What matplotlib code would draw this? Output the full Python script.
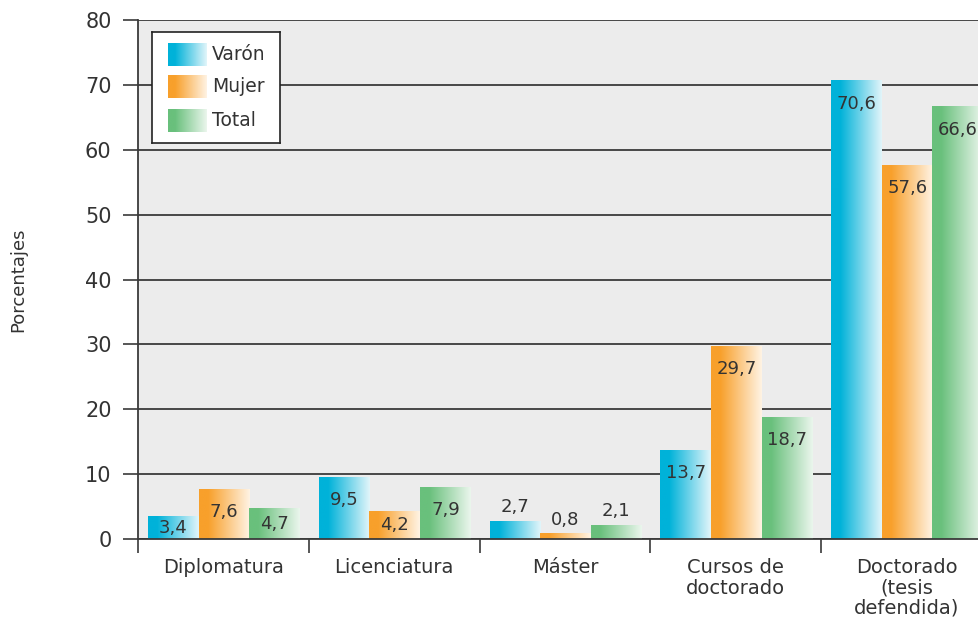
import numpy as np
import matplotlib
matplotlib.use("Agg")
import matplotlib.pyplot as plt
from matplotlib.colors import LinearSegmentedColormap

# Data
categories = ["Diplomatura", "Licenciatura", "Máster",
              "Cursos de\ndoctorado", "Doctorado\n(tesis\ndefendida)"]
series_names = ["Varón", "Mujer", "Total"]
varon = [3.4, 9.5, 2.7, 13.7, 70.6]
mujer = [7.6, 4.2, 0.8, 29.7, 57.6]
total = [4.7, 7.9, 2.1, 18.7, 66.6]
y_ticks = [0, 10, 20, 30, 40, 50, 60, 70, 80]

# Gradient colors (saturated -> light)
grad_colors = [("#00b2d9", "#e2f5fa"), ("#f8a02b", "#fff3e4"), ("#69c07c", "#ebf6ed")]

plt.rcParams["font.family"] = ["DejaVu Sans"]
text_color = "#333333"

fig = plt.figure(figsize=(9.79, 6.17), dpi=100)
ax = fig.add_axes([138 / 979, 78 / 617, 854 / 979, 519 / 617])
ax.set_facecolor("#ececec")

ax.set_yticks(y_ticks)
ax.yaxis.grid(True, color="#3a3a3a", lw=1.3)
ax.set_axisbelow(True)


def make_cmap(c0, c1):
    return LinearSegmentedColormap.from_list("g", [(0, c0), (0.18, c0), (1, c1)])


cmaps = [make_cmap(*c) for c in grad_colors]
grad = np.linspace(0, 1, 256).reshape(1, -1)

bar_w = 50.7 / 171
offset = 10 / 171
for s, vals in enumerate([varon, mujer, total]):
    for i, v in enumerate(vals):
        x0 = i + offset + s * bar_w
        ax.imshow(grad, cmap=cmaps[s], aspect="auto",
                  extent=[x0, x0 + bar_w, 0, v], zorder=2, interpolation="bilinear")
        label = f"{v:.1f}".replace(".", ",")
        if v < 3:
            ly = v + 2.2
        else:
            ly = v - min(3.5, v * 0.5)
        ax.text(x0 + bar_w / 2, ly, label, ha="center", va="center",
                fontsize=13, color=text_color, zorder=3)

ax.set_xlim(0, 5)
ax.set_ylim(0, 80)

# x ticks at group separators, labels centered
ax.set_xticks([0, 1, 2, 3, 4, 5])
ax.set_xticklabels([])
ax.set_xticks([i + 0.5 for i in range(5)], minor=True)
ax.set_xticklabels(categories, minor=True, fontsize=14, color=text_color,
                   linespacing=1.08, va="top")
ax.tick_params(axis="x", which="major", direction="out", length=10, width=1.2,
               color="#3a3a3a")
ax.tick_params(axis="x", which="minor", length=0, pad=14)
ax.tick_params(axis="y", direction="out", length=11, width=1.2, color="#3a3a3a",
               labelsize=15, labelcolor=text_color, pad=8)

for side in ["top", "right"]:
    ax.spines[side].set_visible(False)
for side in ["left", "bottom"]:
    ax.spines[side].set_color("#3a3a3a")
    ax.spines[side].set_linewidth(1.3)

fig.text(18 / 979, 1 - 280 / 617, "Porcentajes", rotation=90, ha="center",
         va="center", fontsize=13, color=text_color)

# Legend drawn manually with gradient swatches
lax = fig.add_axes([152 / 979, 1 - 143 / 617, 128 / 979, 111 / 617])
lax.set_facecolor("white")
lax.set_xticks([])
lax.set_yticks([])
for sp in lax.spines.values():
    sp.set_color("#222222")
    sp.set_linewidth(1.2)
sw_top = [11, 43, 77]
for s, name in enumerate(series_names):
    lax.imshow(grad, cmap=cmaps[s], aspect="auto",
               extent=[16, 55, sw_top[s] + 23, sw_top[s]], interpolation="bilinear")
    lax.text(60, sw_top[s] + 11.5, name, ha="left", va="center",
             fontsize=13.5, color=text_color)
lax.set_xlim(0, 128)
lax.set_ylim(111, 0)

fig.savefig("out.png", dpi=100)
